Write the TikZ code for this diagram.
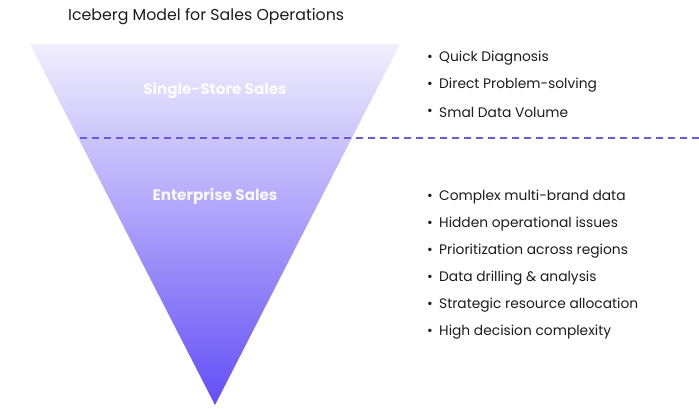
\documentclass[tikz,border=0pt]{standalone}
\usepackage{fontspec}
\setmainfont{Poppins}
\usetikzlibrary{positioning}
\definecolor{icetop}{RGB}{241,239,254}
\definecolor{icemid}{RGB}{150,137,247}
\definecolor{icebottom}{RGB}{100,78,246}
\definecolor{waterline}{RGB}{106,90,220}
\definecolor{itemtext}{RGB}{28,28,30}

\begin{document}
\begin{tikzpicture}[x=1pt, y=-1pt,
			item/.style = {anchor=west, inner sep=0pt, text=itemtext, font=\fontsize{13.8}{16}\selectfont},
			dot/.style = {inner sep=0pt, text=itemtext, font=\fontsize{13.8}{16}\selectfont},
			layer/.style = {inner sep=0pt, text=white, text opacity=0.92, font=\bfseries\fontsize{15.2}{18}\selectfont},
		]
		\useasboundingbox (0,0) rectangle (699,408);

		\node[anchor=west, inner sep=0pt, text=itemtext, font=\fontsize{15.8}{18}\selectfont] (title) at (68,16.5) {Iceberg Model for Sales Operations};

		% iceberg
		\coordinate (TL) at (30,44);
		\coordinate (TR) at (400,44);
		\coordinate (Tip) at (215,405);
		\shade[top color=icetop, middle color=icemid, bottom color=icebottom] (TL)--(TR)--(Tip)--cycle;

		% water line
		\coordinate (WL) at (80,138);
		\coordinate (WR) at (699,138);
		\draw[waterline, line width=1.8pt, dash pattern=on 7pt off 5pt](WL)--(WR);

		\node[layer](single) at (215,90){Single-Store Sales};
		\node[layer](enterprise) at (215,196){Enterprise Sales};

		% above the water
		\node[dot](d1) at (430,58.5){•};
		\node[item](q) at (439,58.5){Quick Diagnosis};
		\node[dot](d2) at (430,85.5){•};
		\node[item](dps) at (439,85.5){Direct Problem-solving};
		\node[dot](d3) at (430,112.5){•};
		\node[item](sdv) at (439,112.5){Smal Data Volume};

		% below the water
		\node[dot](d4) at (430,197.5){•};
		\node[item](cmb) at (439,197.5){Complex multi-brand data};
		\node[dot](d5) at (430,224.5){•};
		\node[item](hoi) at (439,224.5){Hidden operational issues};
		\node[dot](d6) at (430,251.5){•};
		\node[item](par) at (439,251.5){Prioritization across regions};
		\node[dot](d7) at (430,278.5){•};
		\node[item](dda) at (439,278.5){Data drilling \& analysis};
		\node[dot](d8) at (430,305.5){•};
		\node[item](sra) at (439,305.5){Strategic resource allocation};
		\node[dot](d9) at (430,332.5){•};
		\node[item](hdc) at (439,332.5){High decision complexity};

	\end{tikzpicture}
\end{document}
